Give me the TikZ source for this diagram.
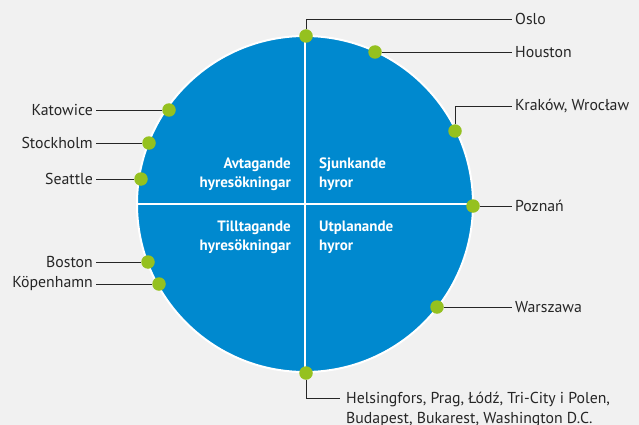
\documentclass[tikz,border=0pt]{standalone}
\usepackage{fontspec}
\setmainfont{PT Sans}
\usetikzlibrary{positioning}
\definecolor{bgcolor}{RGB}{241,241,241}
\definecolor{wheelcolor}{RGB}{0,137,207}
\definecolor{dotcolor}{RGB}{149,193,31}
\definecolor{leadcolor}{RGB}{38,38,38}

\begin{document}
\begin{tikzpicture}[
    x=1pt, y=-1pt,
    wheel/.style={circle, fill=wheelcolor, draw=white, line width=2pt, inner sep=0pt, outer sep=0pt, minimum size=336pt},
    city/.style={circle, fill=dotcolor, inner sep=0pt, minimum size=13.5pt},
    place/.style={font=\fontsize{15.8}{19.5}\selectfont, text=leadcolor, inner sep=3pt},
    quadrant/.style={font=\fontsize{15}{19}\selectfont\bfseries, text=white, inner sep=0pt},
    divider/.style={white, line width=2.5pt},
    leader/.style={leadcolor, line width=0.9pt}
]
    % Background
    \fill[bgcolor] (0,0) rectangle (639,425);
    \useasboundingbox (0,0) rectangle (639,425);

    % Circle and quadrants
    \node[wheel] (wheel) at (305,204) {};
    \draw[divider] (wheel.north) -- (wheel.south);
    \draw[divider] (wheel.west) -- (wheel.east);

    \node[quadrant, align=right, anchor=east] (avtagande) at (291,174) {Avtagande\\hyresökningar};
    \node[quadrant, align=left, anchor=west] (sjunkande) at (319,174) {Sjunkande\\hyror};
    \node[quadrant, align=right, anchor=east] (tilltagande) at (291,237) {Tilltagande\\hyresökningar};
    \node[quadrant, align=left, anchor=west] (utplanande) at (319,237) {Utplanande\\hyror};

    % Cities on the right
    \node[place, anchor=west] (osloLbl) at (512,19) {Oslo};
    \node[place, anchor=west] (houstonLbl) at (512,52) {Houston};
    \node[place, anchor=west] (krakowLbl) at (512,106) {Kraków, Wrocław};
    \node[place, anchor=west] (poznanLbl) at (512,206) {Poznań};
    \node[place, anchor=west] (warszawaLbl) at (512,307) {Warszawa};
    \coordinate (helsEnd) at (340,398);
    \node[place, align=left, anchor=north west] (helsLbl) at (343,389) {Helsingfors, Prag, Łódź, Tri-City i Polen,\\Budapest, Bukarest, Washington D.C.};

    % Cities on the left
    \node[place, anchor=east] (katowiceLbl) at (96,110) {Katowice};
    \node[place, anchor=east] (stockholmLbl) at (96,143) {Stockholm};
    \node[place, anchor=east] (seattleLbl) at (96,179) {Seattle};
    \node[place, anchor=east] (bostonLbl) at (96,262) {Boston};
    \node[place, anchor=east] (kopenhamnLbl) at (96,284) {Köpenhamn};

    % Dots
    \node[city] (oslo) at (306,36) {};
    \node[city] (houston) at (375,52) {};
    \node[city] (krakow) at (455,131) {};
    \node[city] (poznan) at (473,206) {};
    \node[city] (warszawa) at (437,307) {};
    \node[city] (helsingfors) at (306,373) {};
    \node[city] (katowice) at (169,110) {};
    \node[city] (stockholm) at (149,143) {};
    \node[city] (seattle) at (141,179) {};
    \node[city] (boston) at (148,262) {};
    \node[city] (kopenhamn) at (159,284) {};

    % Leaders
    \draw[leader] (oslo) |- (osloLbl);
    \draw[leader] (houston) -- (houstonLbl);
    \draw[leader] (krakow) |- (krakowLbl);
    \draw[leader] (poznan) -- (poznanLbl);
    \draw[leader] (warszawa) -- (warszawaLbl);
    \draw[leader] (helsingfors) |- (helsEnd);
    \draw[leader] (katowiceLbl) -- (katowice);
    \draw[leader] (stockholmLbl) -- (stockholm);
    \draw[leader] (seattleLbl) -- (seattle);
    \draw[leader] (bostonLbl) -- (boston);
    \draw[leader] (kopenhamnLbl) -- (kopenhamn);
\end{tikzpicture}
\end{document}
